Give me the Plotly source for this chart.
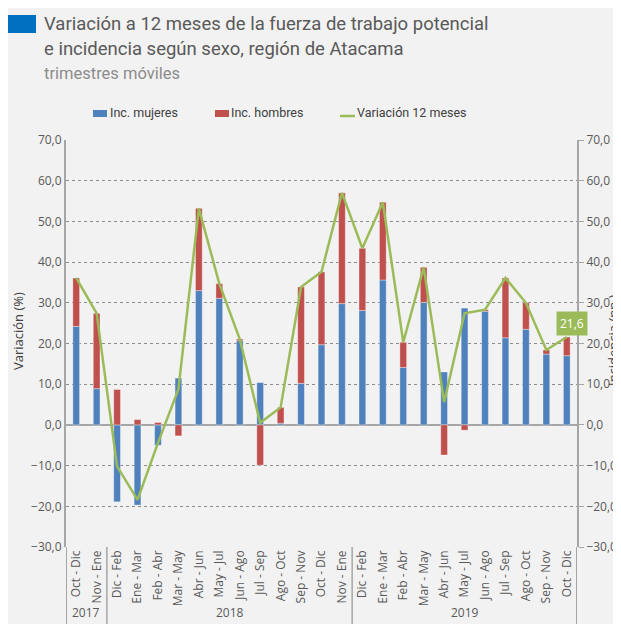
import plotly.graph_objects as go

categories = ["Oct - Dic", "Nov - Ene",
              "Dic - Feb", "Ene - Mar", "Feb - Abr", "Mar - May", "Abr - Jun", "May - Jul",
              "Jun - Ago", "Jul - Sep", "Ago - Oct", "Sep - Nov", "Oct - Dic", "Nov - Ene",
              "Dic - Feb", "Ene - Mar", "Feb - Abr", "Mar - May", "Abr - Jun", "May - Jul",
              "Jun - Ago", "Jul - Sep", "Ago - Oct", "Sep - Nov", "Oct - Dic"]
inc_mujeres = [24.2, 8.9, -18.9, -19.7, -5.0, 11.5, 33.0, 31.1, 20.7, 10.4, 0.4, 10.2, 19.7,
               29.8, 28.1, 35.6, 14.1, 30.1, 13.0, 28.7, 27.9, 21.4, 23.5, 17.4, 17.0]
inc_hombres = [11.9, 18.5, 8.7, 1.3, 0.6, -2.7, 20.2, 3.6, 0.4, -9.9, 3.9, 23.7, 17.9,
               27.2, 15.3, 19.1, 6.2, 8.6, -7.4, -1.3, 0.4, 14.7, 6.5, 1.0, 4.6]
variacion = [36.1, 27.4, -10.2, -18.4, -4.4, 8.8, 53.2, 34.7, 21.1, 0.5, 4.3, 33.9, 37.6,
             57.0, 43.4, 54.7, 20.3, 38.7, 5.6, 27.4, 28.3, 36.1, 30.0, 18.4, 21.6]
years = ["2017", "2018", "2019"]
year_groups = [(0, 1), (2, 13), (14, 24)]

OFF = 8  # page body margin
W, H = 621 - OFF, 624 - OFF
ML, MR, MT, MB = 58, 44, 132, 77
PW, PH = W - ML - MR, H - MT - MB

def px(xr):
    # reference pixel x -> paper fraction
    return (xr - OFF - ML) / PW

def py(yr):
    # reference pixel y -> paper fraction
    return (H - MB - (yr - OFF)) / PH

idx = list(range(len(categories)))
FONT = "Open Sans"
GRAY = "#595959"
BLUE, RED, GREEN = "#4f81bd", "#c0504d", "#9bbb59"

fig = go.Figure()
fig.add_trace(go.Bar(x=idx, y=inc_mujeres, name="Inc. mujeres",
                     marker=dict(color=BLUE, line=dict(color="rgba(255,255,255,0.35)", width=1))))
fig.add_trace(go.Bar(x=idx, y=inc_hombres, name="Inc. hombres",
                     marker=dict(color=RED, line=dict(color="rgba(255,255,255,0.35)", width=1))))
fig.add_trace(go.Scatter(x=idx, y=variacion, name="Variación 12 meses", mode="lines",
                         line=dict(color=GREEN, width=2.5)))
fig.add_trace(go.Scatter(x=idx, y=variacion, yaxis="y2", mode="lines",
                         line=dict(color="rgba(0,0,0,0)"), showlegend=False, hoverinfo="skip"))

fig.update_layout(
    width=W, height=H,
    margin=dict(l=ML, r=MR, t=MT, b=MB, autoexpand=False),
    paper_bgcolor="#f2f2f2", plot_bgcolor="#f2f2f2",
    barmode="relative", bargap=0.67,
    separators=",.",
    showlegend=False,
    xaxis=dict(range=[-0.5, 24.5], tickmode="array", tickvals=idx, ticktext=categories,
               tickangle=-90, showgrid=False, zeroline=False, showline=False, automargin=False,
               tickfont=dict(family=FONT, size=12, color=GRAY)),
    yaxis=dict(range=[-30, 70], dtick=10, tickformat=".1f", showgrid=True,
               gridcolor="#8c8c8c", griddash="dot", gridwidth=1,
               zeroline=True, zerolinecolor="#a6a6a6", zerolinewidth=2,
               showline=True, linecolor="#a6a6a6", linewidth=2, automargin=False,
               tickfont=dict(family=FONT, size=12, color=GRAY)),
    yaxis2=dict(range=[-30, 70], dtick=10, tickformat=".1f", overlaying="y", side="right",
                showgrid=False, zeroline=False, showline=True, linecolor="#a6a6a6", linewidth=2,
                ticks="outside", ticklen=5, tickcolor="#a6a6a6", automargin=False,
                tickfont=dict(family=FONT, size=12, color=GRAY)),
)

shapes = []
# title square
shapes.append(dict(type="rect", xref="paper", yref="paper", x0=px(6), x1=px(36), y0=py(33), y1=py(15),
                   fillcolor="#0070c0", line=dict(width=0)))
# group separators and axis extensions below plot
for xv in [-0.5, 1.5, 13.5, 24.5]:
    shapes.append(dict(type="line", xref="x", yref="paper", x0=xv, x1=xv, y0=0, y1=py(630),
                       line=dict(color="#a6a6a6", width=2 if xv in (-0.5, 24.5) else 1.5)))
# manual legend symbols
shapes.append(dict(type="rect", xref="paper", yref="paper", x0=px(93), x1=px(107), y0=py(117), y1=py(110),
                   fillcolor=BLUE, line=dict(width=0)))
shapes.append(dict(type="rect", xref="paper", yref="paper", x0=px(215), x1=px(229), y0=py(117), y1=py(110),
                   fillcolor=RED, line=dict(width=0)))
shapes.append(dict(type="line", xref="paper", yref="paper", x0=px(340), x1=px(355), y0=py(116), y1=py(116),
                   line=dict(color=GREEN, width=2.5)))
fig.update_layout(shapes=shapes)

ann = []
TFONT = "Roboto"
ann.append(dict(text="Variación a 12 meses de la fuerza de trabajo potencial", xref="paper", yref="paper",
                x=px(42), y=py(24), xanchor="left", yanchor="middle", showarrow=False,
                font=dict(family=TFONT, size=18.5, color=GRAY)))
ann.append(dict(text="e incidencia según sexo, región de Atacama", xref="paper", yref="paper",
                x=px(42), y=py(49), xanchor="left", yanchor="middle", showarrow=False,
                font=dict(family=TFONT, size=18.5, color=GRAY)))
ann.append(dict(text="trimestres móviles", xref="paper", yref="paper",
                x=px(42), y=py(73), xanchor="left", yanchor="middle", showarrow=False,
                font=dict(family=TFONT, size=16.5, color="#8c8c8c")))
LFONT = dict(family="Liberation Sans Narrow, Roboto", size=12.5, color="#404040")
for label, xr in [("Inc. mujeres", 108), ("Inc. hombres", 229), ("Variación 12 meses", 355)]:
    ann.append(dict(text=label, xref="paper", yref="paper", x=px(xr), y=py(113),
                    xanchor="left", yanchor="middle", showarrow=False, font=LFONT))
ann.append(dict(text="Variación (%)", xref="paper", yref="paper", x=px(18), y=py(331),
                xanchor="center", yanchor="middle", textangle=-90, showarrow=False,
                font=dict(family=FONT, size=13, color="#404040")))
ann.append(dict(text="Incidencia (pp.)", xref="paper", yref="paper", x=px(613), y=py(340),
                xanchor="center", yanchor="middle", textangle=-90, showarrow=False,
                font=dict(family=FONT, size=13, color="#404040")))
for name, (a, b) in zip(years, year_groups):
    ann.append(dict(text=name, xref="x", yref="paper", x=(a + b) / 2, y=py(612),
                    xanchor="center", yanchor="middle", showarrow=False,
                    font=dict(family=FONT, size=12, color=GRAY)))
ann.append(dict(text="21,6", xref="x", yref="y", x=idx[-1], y=variacion[-1], xshift=5, yshift=13,
                showarrow=False, bgcolor=GREEN, borderpad=3,
                font=dict(family=FONT, size=12, color="white")))
fig.update_layout(annotations=ann)

fig.write_html("out.html")
